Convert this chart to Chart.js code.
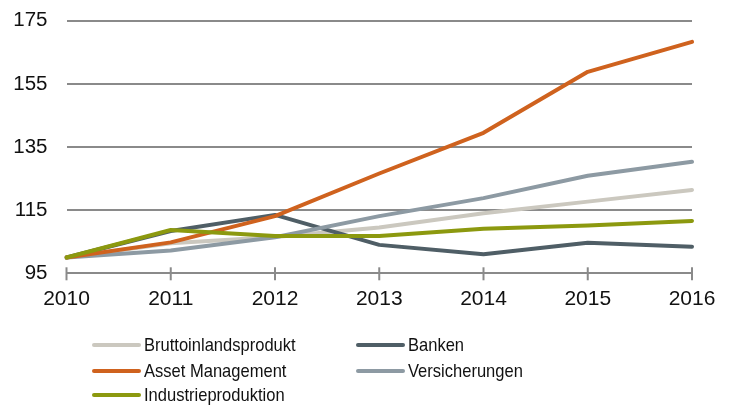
<!DOCTYPE html>
<html>
<head>
<meta charset="utf-8">
<script src="https://cdn.jsdelivr.net/npm/chart.js@4.4.0/dist/chart.umd.min.js"></script>
<style>
  html, body { margin: 0; padding: 0; background: #fff; }
  #wrap { position: relative; width: 729px; height: 420px; }
  #c { position: absolute; left: 0; top: 0; }
  .leg { position: absolute; font-family: "Liberation Sans", Arial, sans-serif; font-size: 19px; color: #111; line-height: 22px; white-space: nowrap; }
  .leg .sw { position: absolute; left: 0; top: 9px; width: 49px; height: 4px; border-radius: 2px; }
  .leg .tx { position: absolute; left: 52px; top: 0; transform: scaleX(0.87); transform-origin: 0 0; }
</style>
</head>
<body>
<div id="wrap">
  <canvas id="c" width="729" height="420"></canvas>
  <div id="legend"></div>
</div>
<script>
const years = ['2010', '2011', '2012', '2013', '2014', '2015', '2016'];
const bip = [100, 104.5, 106.5, 109.5, 114, 117.7, 121.4];
const banken = [100, 108.4, 113.5, 104, 101, 104.7, 103.4];
const assetManagement = [100, 104.8, 113.1, 126.6, 139.5, 158.8, 168.3];
const versicherungen = [100, 102.2, 106.4, 113.1, 118.8, 125.9, 130.3];
const industrie = [100, 108.7, 106.8, 106.8, 109.1, 110.1, 111.6];
const yTicks = [95, 115, 135, 155, 175];

const series = [
  { label: 'Bruttoinlandsprodukt', data: bip, color: '#cbc8bf', order: 4 },
  { label: 'Banken', data: banken, color: '#4f5e66', order: 3 },
  { label: 'Asset Management', data: assetManagement, color: '#cf621e', order: 1 },
  { label: 'Versicherungen', data: versicherungen, color: '#8d9aa3', order: 2 },
  { label: 'Industrieproduktion', data: industrie, color: '#8c990f', order: 0 }
];

const crossTicks = {
  id: 'crossTicks',
  afterDatasetsDraw(chart) {
    const ctx = chart.ctx, xs = chart.scales.x, ys = chart.scales.y;
    const y0 = ys.getPixelForValue(95);
    ctx.save();
    ctx.strokeStyle = '#8a8a8a';
    ctx.lineWidth = 2;
    xs.ticks.forEach((t, i) => {
      const x = xs.getPixelForTick(i);
      ctx.beginPath();
      ctx.moveTo(x, y0 - 6);
      ctx.lineTo(x, y0 + 7);
      ctx.stroke();
    });
    ctx.restore();
  }
};

const fontFam = '"Liberation Sans", Arial, sans-serif';

new Chart(document.getElementById('c'), {
  type: 'line',
  data: {
    labels: years,
    datasets: series.map(s => ({
      label: s.label, data: s.data, borderColor: s.color, backgroundColor: s.color,
      borderWidth: 4, pointRadius: 0, tension: 0, order: s.order,
      borderCapStyle: 'round', borderJoinStyle: 'round'
    }))
  },
  options: {
    responsive: false, animation: false,
    layout: { padding: { top: 20.7, right: 37, bottom: 101.7, left: 0 } },
    plugins: { legend: { display: false }, tooltip: { enabled: false } },
    scales: {
      x: {
        offset: false,
        grid: { display: false },
        border: { display: false },
        ticks: { color: '#111', font: { family: fontFam, size: 21 }, padding: 5, maxRotation: 0 },
        afterFit(s) { s.height = 45; }
      },
      y: {
        min: 95, max: 175,
        afterBuildTicks(s) { s.ticks = yTicks.map(v => ({ value: v })); },
        grid: { color: '#8a8a8a', lineWidth: 2, drawTicks: true, tickLength: 18, tickColor: 'rgba(0,0,0,0)' },
        border: { display: false },
        ticks: { color: '#111', font: { family: fontFam, size: 20.5 }, padding: 1 },
        afterFit(s) { s.width = 66.5; }
      }
    }
  },
  plugins: [crossTicks]
});

const legendPos = [
  [92, 334], [356, 334], [92, 359.7], [356, 359.7], [92, 384]
];
const legend = document.getElementById('legend');
series.forEach((s, i) => {
  const d = document.createElement('div');
  d.className = 'leg';
  d.style.left = legendPos[i][0] + 'px';
  d.style.top = legendPos[i][1] + 'px';
  d.innerHTML = '<span class="sw" style="background:' + s.color + '"></span><span class="tx">' + s.label + '</span>';
  legend.appendChild(d);
});
</script>
</body>
</html>
